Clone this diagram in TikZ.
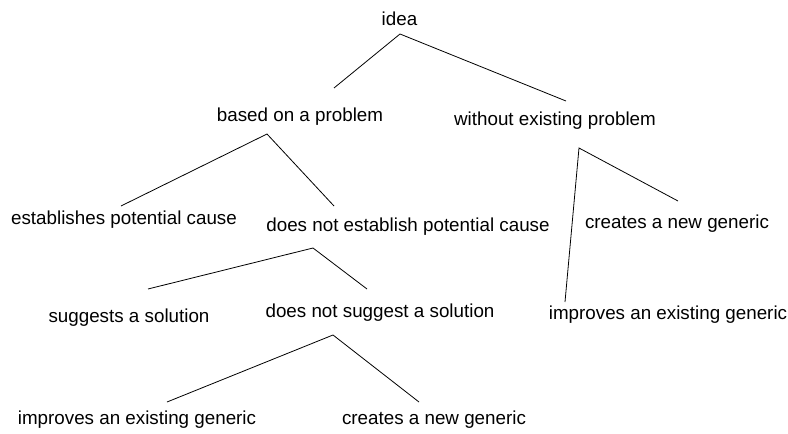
\documentclass[tikz,border=0pt]{standalone}
\usepackage{fontspec}
\setmainfont{Liberation Sans}
\begin{document}
\begin{tikzpicture}[x=1pt,y=-1pt,
  lbl/.style={inner sep=0pt,font=\fontsize{18.8}{22}\selectfont},
  branch/.style={draw=black,line width=0.8pt}]
\useasboundingbox (0,0) rectangle (788,434);
% labels
\node[lbl] (idea) at (399.5,19) {idea};
\node[lbl] (prob) at (300,117) {based on a problem};
\node[lbl] (noprob) at (555,121) {without existing problem};
\node[lbl] (est) at (124,220) {establishes potential cause};
\node[lbl] (noest) at (408,227) {does not establish potential cause};
\node[lbl] (sugg) at (129,318) {suggests a solution};
\node[lbl] (nosugg) at (380,313) {does not suggest a solution};
\node[lbl] (impA) at (137,420) {improves an existing generic};
\node[lbl] (newA) at (434,420) {creates a new generic};
\node[lbl] (newB) at (677,224) {creates a new generic};
\node[lbl] (impB) at (668,315) {improves an existing generic};
% connector ends
\coordinate (a0) at (400,34);
\coordinate (a1) at (334,88);
\coordinate (a2) at (566,101);
\coordinate (b0) at (267,134);
\coordinate (b1) at (121,206);
\coordinate (b2) at (334,206);
\coordinate (c0) at (313,248);
\coordinate (c1) at (148,289);
\coordinate (c2) at (367,289);
\coordinate (d0) at (333,335);
\coordinate (d1) at (167,402);
\coordinate (d2) at (419,402);
\coordinate (e0) at (579,148);
\coordinate (e1) at (565,302);
\coordinate (e2) at (678,201);
% connectors
\draw[branch] (a1) -- (a0) -- (a2);
\draw[branch] (b1) -- (b0) -- (b2);
\draw[branch] (c1) -- (c0) -- (c2);
\draw[branch] (d1) -- (d0) -- (d2);
\draw[branch] (e1) -- (e0) -- (e2);
\end{tikzpicture}
\end{document}
